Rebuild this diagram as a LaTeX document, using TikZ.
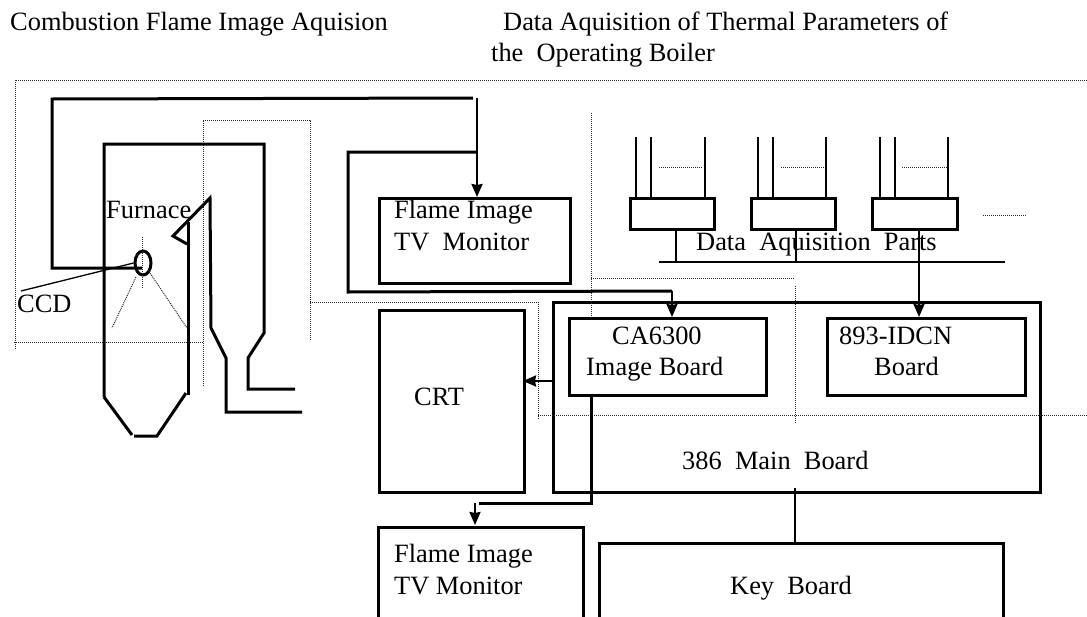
\documentclass[tikz,border=0pt]{standalone}
\usepackage{fontspec}
\setmainfont{Liberation Serif}
\usetikzlibrary{arrows.meta,shapes.geometric}
\tikzset{
  thick line/.style={line width=3pt,line join=miter},
  med line/.style={line width=2.2pt},
  thin line/.style={line width=1.3pt},
  dot line/.style={line width=1pt,dash pattern=on 1pt off 1pt,black!85},
  box/.style={draw,line width=2.8pt,inner sep=0pt,anchor=north west},
  label/.style={font=\fontsize{26.4}{26.4}\selectfont,inner sep=0pt,anchor=base west},
  tip/.style={-{Stealth[length=13pt,width=11pt,inset=1pt]}}
}
\begin{document}
\begin{tikzpicture}[x=1pt,y=-1pt]
\useasboundingbox (0,0) rectangle (1087,616);
\path[clip] (0,0) rectangle (1087,616);
% boxes
\node[box,minimum width=191pt,minimum height=85pt] (tv1) at (378,197) {};
\node[box,minimum width=145pt,minimum height=182pt] (crt) at (378,309) {};
\node[box,minimum width=487pt,minimum height=190pt] (main) at (552,301) {};
\node[box,minimum width=197pt,minimum height=77pt] (ca) at (568,317) {};
\node[box,minimum width=198pt,minimum height=77pt] (idcn) at (826,317) {};
\node[box,minimum width=205pt,minimum height=110pt] (tv2) at (377,526) {};
\node[box,minimum width=404pt,minimum height=90pt] (key) at (598,542) {};
\node[box,minimum width=84pt,minimum height=31pt] (d1) at (629,197) {};
\node[box,minimum width=84pt,minimum height=31pt] (d2) at (750,197) {};
\node[box,minimum width=85pt,minimum height=31pt] (d3) at (871,197) {};
% dotted frame lines
\draw[dot line] (15,349)--(15,80)--(1087,80);
\draw[dot line] (14,342)--(203,342);
\draw[dot line] (203,386)--(203,120)--(310,120)--(310,340);
\draw[dot line] (310,302)--(538,302)--(538,420);
\draw[dot line] (538,415)--(1087,415);
\draw[dot line] (591,113)--(591,317);
\draw[dot line] (591,278)--(795,278);
\draw[dot line] (795,286)--(795,423);
\draw[dot line] (659,167)--(703,167);
\draw[dot line] (781,167)--(825,167);
\draw[dot line] (902,167)--(947,167);
\draw[dot line] (983,215)--(1027,215);
% furnace
\draw[thick line] (104,397)--(104,144)--(264,144)--(264,333)--(248,358)--(248,389)--(295,389);
\draw[thick line] (188,395)--(188,222);
\draw[thick line] (187,244)--(173,236)--(210,198)--(211,328)--(226,358)--(226,412)--(302,412);
\draw[thick line] (104,397)--(132,435);
\draw[thick line] (134,436)--(157,436)--(186,393);
% CCD
\node[draw,ellipse,line width=3pt,minimum width=16pt,minimum height=24pt,inner sep=0pt] (cam) at (143,263) {};
\draw[thin line] (21,291)--(cam.west);
\draw[dot line] (142,237)--(142,289);
\draw[dot line] (136,277)--(112,328);
\draw[dot line] (148,270)--(187,328);
% wires
\draw[thick line] (142,268)--(52,268)--(52,99)--(473,98);
\draw[med line,tip] (477,98)--(477,197);
\draw[thick line] (477,152)--(348,152)--(348,292)--(672,291);
\draw[med line,tip] (672,291)--(672,317);
\draw[med line,tip] (552,381)--(523,381);
\draw[thick line] (591,394)--(591,503)--(479,503);
\draw[med line,tip] (475,503)--(475,525);
\draw[med line] (795,488)--(795,542);
% DAQ
\foreach \x in {636,651,705,758,773,826,880,895,948}{\draw[med line] (\x,137)--(\x,197);}
\draw[med line] (659,262)--(1005,262);
\draw[med line] (676,228)--(676,262);
\draw[med line] (796,228)--(796,262);
\draw[med line,tip] (919,228)--(919,317);
% text
\node[label] (t1) at (10,30.5) {Combustion Flame Image Aquision};
\node[label] (t2) at (503,30.5) {Data Aquisition of Thermal Parameters of};
\node[label] (t3) at (491,61) {the\ \ Operating Boiler};
\node[label] (furn) at (106,218) {Furnace};
\node[label] (ccd) at (17,312) {CCD};
\node[label] (a1) at (394,218) {Flame Image};
\node[label] (a2) at (394,250) {TV\ \ Monitor};
\node[label] (dp) at (696,250) {Data\ \ Aquisition\ \ Parts};
\node[label] (c1) at (612,344) {CA6300};
\node[label] (c2) at (586,375) {Image Board};
\node[label] (i1) at (839,344) {893-IDCN};
\node[label] (i2) at (874,375) {Board};
\node[label] (crtl) at (414,405) {CRT};
\node[label] (mb) at (682,469) {386\ \ Main\ \ Board};
\node[label] (b1) at (394,562) {Flame Image};
\node[label] (b2) at (394,594) {TV Monitor};
\node[label] (kb) at (730,594) {Key\ \ Board};
\end{tikzpicture}
\end{document}
